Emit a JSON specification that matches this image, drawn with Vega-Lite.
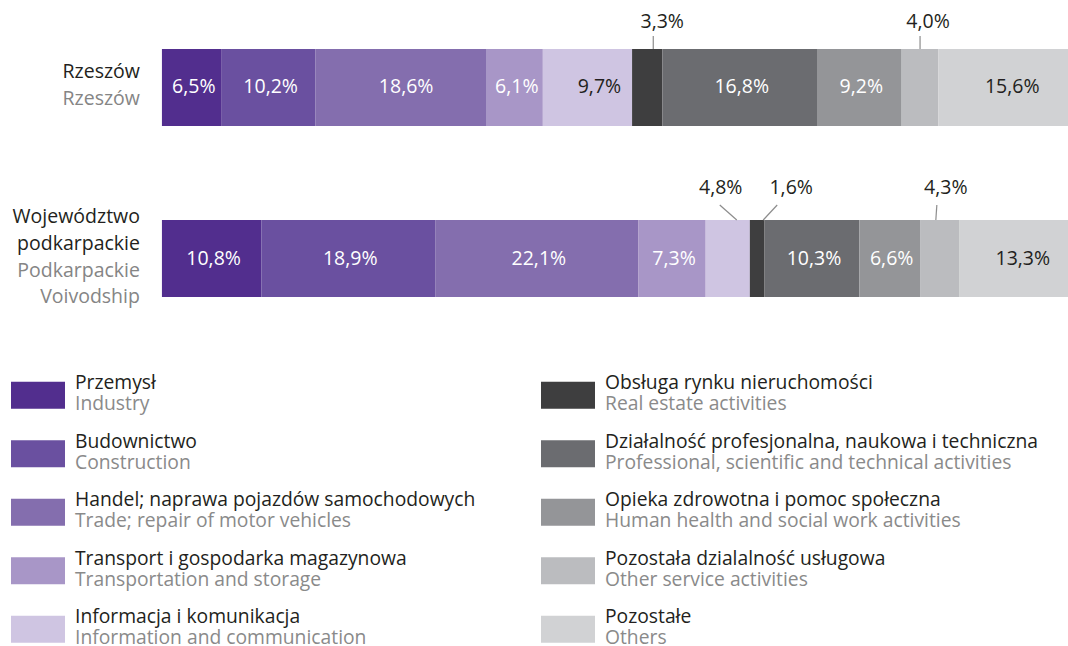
{
  "$schema": "https://vega.github.io/schema/vega-lite/v6.json",
  "padding": 0,
  "spacing": 20,
  "background": "white",
  "config": {
    "view": {"stroke": null},
    "font": "Open Sans",
    "text": {"font": "Open Sans"}
  },
  "datasets": {
    "bars": [
      {"region": "Rzeszów", "idx": 0, "cat": "Przemysł", "value": 6.5},
      {"region": "Rzeszów", "idx": 1, "cat": "Budownictwo", "value": 10.2},
      {"region": "Rzeszów", "idx": 2, "cat": "Handel; naprawa pojazdów samochodowych", "value": 18.6},
      {"region": "Rzeszów", "idx": 3, "cat": "Transport i gospodarka magazynowa", "value": 6.1},
      {"region": "Rzeszów", "idx": 4, "cat": "Informacja i komunikacja", "value": 9.7},
      {"region": "Rzeszów", "idx": 5, "cat": "Obsługa rynku nieruchomości", "value": 3.3},
      {"region": "Rzeszów", "idx": 6, "cat": "Działalność profesjonalna, naukowa i techniczna", "value": 16.8},
      {"region": "Rzeszów", "idx": 7, "cat": "Opieka zdrowotna i pomoc społeczna", "value": 9.2},
      {"region": "Rzeszów", "idx": 8, "cat": "Pozostała dzialalność usługowa", "value": 4.0},
      {"region": "Rzeszów", "idx": 9, "cat": "Pozostałe", "value": 15.6},
      {"region": "Województwo podkarpackie", "idx": 0, "cat": "Przemysł", "value": 10.8},
      {"region": "Województwo podkarpackie", "idx": 1, "cat": "Budownictwo", "value": 18.9},
      {"region": "Województwo podkarpackie", "idx": 2, "cat": "Handel; naprawa pojazdów samochodowych", "value": 22.1},
      {"region": "Województwo podkarpackie", "idx": 3, "cat": "Transport i gospodarka magazynowa", "value": 7.3},
      {"region": "Województwo podkarpackie", "idx": 4, "cat": "Informacja i komunikacja", "value": 4.8},
      {"region": "Województwo podkarpackie", "idx": 5, "cat": "Obsługa rynku nieruchomości", "value": 1.6},
      {"region": "Województwo podkarpackie", "idx": 6, "cat": "Działalność profesjonalna, naukowa i techniczna", "value": 10.3},
      {"region": "Województwo podkarpackie", "idx": 7, "cat": "Opieka zdrowotna i pomoc społeczna", "value": 6.6},
      {"region": "Województwo podkarpackie", "idx": 8, "cat": "Pozostała dzialalność usługowa", "value": 4.3},
      {"region": "Województwo podkarpackie", "idx": 9, "cat": "Pozostałe", "value": 13.3}
    ],
    "regions": [
      {"region": "Rzeszów", "pl": "Rzeszów", "en": "Rzeszów"},
      {"region": "Województwo podkarpackie", "pl": "Województwo\npodkarpackie", "en": "Podkarpackie\nVoivodship"}
    ],
    "legend": [
      {"cat": "Przemysł", "en": "Industry", "col": 0, "row": 0},
      {"cat": "Budownictwo", "en": "Construction", "col": 0, "row": 1},
      {"cat": "Handel; naprawa pojazdów samochodowych", "en": "Trade; repair of motor vehicles", "col": 0, "row": 2},
      {"cat": "Transport i gospodarka magazynowa", "en": "Transportation and storage", "col": 0, "row": 3},
      {"cat": "Informacja i komunikacja", "en": "Information and communication", "col": 0, "row": 4},
      {"cat": "Obsługa rynku nieruchomości", "en": "Real estate activities", "col": 1, "row": 0},
      {"cat": "Działalność profesjonalna, naukowa i techniczna", "en": "Professional, scientific and technical activities", "col": 1, "row": 1},
      {"cat": "Opieka zdrowotna i pomoc społeczna", "en": "Human health and social work activities", "col": 1, "row": 2},
      {"cat": "Pozostała dzialalność usługowa", "en": "Other service activities", "col": 1, "row": 3},
      {"cat": "Pozostałe", "en": "Others", "col": 1, "row": 4}
    ]
  },
  "vconcat": [
    {
      "width": 1068,
      "height": 346,
      "encoding": {
        "y": {
          "field": "region",
          "type": "nominal",
          "sort": ["Rzeszów", "Województwo podkarpackie"],
          "scale": {"paddingInner": 0.5497, "paddingOuter": 0.2865},
          "axis": null
        }
      },
      "layer": [
        {
          "data": {"name": "bars"},
          "transform": [
            {"stack": "value", "groupby": ["region"], "sort": [{"field": "idx", "order": "ascending"}], "as": ["x0", "x1"]},
            {"calculate": "(datum.x0 + datum.x1) / 2", "as": "mid"},
            {"calculate": "replace(format(datum.value, '.1f'), '.', ',') + '%'", "as": "label"}
          ],
          "layer": [
            {
              "mark": {"type": "bar"},
              "encoding": {
                "x": {"field": "x0", "type": "quantitative", "scale": {"domain": [-17.6, 98.48], "clamp": true, "nice": false, "zero": false}, "axis": null},
                "x2": {"field": "x1"},
                "color": {
                  "field": "cat",
                  "type": "nominal",
                  "scale": {
                    "domain": ["Przemysł", "Budownictwo", "Handel; naprawa pojazdów samochodowych", "Transport i gospodarka magazynowa", "Informacja i komunikacja", "Obsługa rynku nieruchomości", "Działalność profesjonalna, naukowa i techniczna", "Opieka zdrowotna i pomoc społeczna", "Pozostała dzialalność usługowa", "Pozostałe"],
                    "range": ["#522e8e", "#6a50a0", "#846eae", "#a896c7", "#cfc5e2", "#3e3e3f", "#6b6c70", "#949598", "#bbbcbf", "#d1d2d4"]
                  },
                  "legend": null
                }
              }
            },
            {
              "transform": [{"filter": "datum.value >= 5"}],
              "mark": {
                "type": "text", "fontSize": 19.5, "align": "center", "baseline": "middle",
                "dx": {"expr": "datum.idx == 4 ? 12 : (datum.idx == 2 && datum.region == 'Rzeszów' ? 5 : 2)"}
              },
              "encoding": {
                "x": {"field": "mid", "type": "quantitative"},
                "text": {"field": "label"},
                "color": {"condition": {"test": "datum.idx == 4 || datum.idx == 9", "value": "#231f20"}, "value": "#ffffff"}
              }
            },
            {
              "transform": [{"filter": "datum.value < 5"}],
              "mark": {
                "type": "text", "fontSize": 19.5, "align": "center", "baseline": "alphabetic", "color": "#231f20",
                "dx": {"expr": "datum.region == 'Rzeszów' ? (datum.idx == 5 ? 15 : 8) : (datum.idx == 4 ? -7 : (datum.idx == 5 ? 34 : 6))"},
                "dy": {"expr": "datum.region == 'Rzeszów' ? -59 : -64.5"}
              },
              "encoding": {
                "x": {"field": "mid", "type": "quantitative"},
                "text": {"field": "label"}
              }
            },
            {
              "transform": [{"filter": "datum.value < 5"}],
              "mark": {
                "type": "rule", "color": "#8c8c8c", "strokeWidth": 1.2,
                "xOffset": {"expr": "datum.region == 'Rzeszów' ? (datum.idx == 5 ? 6 : 0) : (datum.idx == 4 ? 9 : (datum.idx == 5 ? 6 : -4))"},
                "x2Offset": {"expr": "datum.region == 'Rzeszów' ? (datum.idx == 5 ? 6 : 0) : (datum.idx == 4 ? -8 : (datum.idx == 5 ? 20 : -3))"},
                "yOffset": -38.5,
                "y2Offset": {"expr": "datum.region == 'Rzeszów' ? -51.5 : -53.5"}
              },
              "encoding": {
                "x": {"field": "mid", "type": "quantitative"},
                "x2": {"field": "mid"},
                "y2": {"field": "region"}
              }
            }
          ]
        },
        {
          "data": {"name": "regions"},
          "mark": {
            "type": "text", "fontSize": 19.5, "align": "right", "baseline": "line-bottom", "lineHeight": 26.5, "lineBreak": "\n", "dx": -22, "color": "#231f20",
            "dy": {"expr": "-1 - 26.5 * (length(split(datum.pl, '\\n')) - 1)"}
          },
          "encoding": {
            "x": {"datum": 0, "type": "quantitative"},
            "text": {"field": "pl"}
          }
        },
        {
          "data": {"name": "regions"},
          "mark": {"type": "text", "fontSize": 19.5, "align": "right", "baseline": "line-top", "lineHeight": 26.5, "lineBreak": "\n", "dx": -22, "dy": -1, "color": "#858585"},
          "encoding": {
            "x": {"datum": 0, "type": "quantitative"},
            "text": {"field": "en"}
          }
        }
      ]
    },
    {
      "width": 1060,
      "height": 292.5,
      "data": {"name": "legend"},
      "encoding": {
        "x": {"field": "col", "type": "ordinal", "bandPosition": 0, "scale": {"type": "band", "paddingInner": 0, "paddingOuter": 0}, "axis": null},
        "y": {"field": "row", "type": "ordinal", "scale": {"type": "band", "paddingInner": 0, "paddingOuter": 0}, "axis": null}
      },
      "layer": [
        {
          "mark": {"type": "point", "shape": "M-1,-0.5V0.5H1V-0.5Z", "size": 2916, "filled": true, "opacity": 1, "strokeWidth": 0, "xOffset": 38},
          "encoding": {
            "color": {"field": "cat", "type": "nominal", "legend": null}
          }
        },
        {
          "mark": {"type": "text", "fontSize": 19.3, "align": "left", "baseline": "line-bottom", "lineHeight": 21.5, "dx": 75, "dy": -1, "color": "#231f20"},
          "encoding": {"text": {"field": "cat"}}
        },
        {
          "mark": {"type": "text", "fontSize": 19.3, "align": "left", "baseline": "line-top", "lineHeight": 21.5, "dx": 75, "dy": -1, "color": "#8a8a8a"},
          "encoding": {"text": {"field": "en"}}
        }
      ]
    }
  ]
}
